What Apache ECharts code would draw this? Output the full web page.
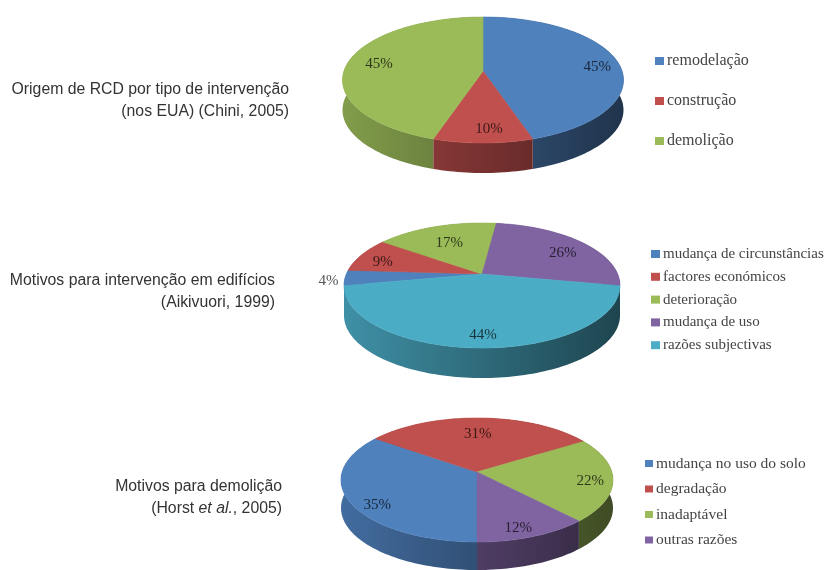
<!DOCTYPE html>
<html>
<head>
<meta charset="utf-8">
<style>html,body{margin:0;padding:0;background:#fff}#chart{width:826px;height:570px}</style>
<script src="https://cdn.jsdelivr.net/npm/echarts@6/dist/echarts.min.js"></script>
</head>
<body>
<div id="chart"></div>
<script>
// Shares, in percent, clockwise from each pie's first angle
const categoriasOrigem = ['remodelação', 'construção', 'demolição'];
const valoresOrigem = [45, 10, 45];

const categoriasIntervencao = ['mudança de circunstâncias', 'factores económicos', 'deterioração', 'mudança de uso', 'razões subjectivas'];
const valoresIntervencao = [4, 9, 17, 26, 44];

const categoriasDemolicao = ['mudança no uso do solo', 'degradação', 'inadaptável', 'outras razões'];
const valoresDemolicao = [35, 31, 22, 12];

const BLUE = '#4F81BD', RED = '#C0504D', GREEN = '#9BBB59', PURPLE = '#8064A2', CYAN = '#4BACC6';
const SERIF = '"Liberation Serif", serif';
const SANS = '"Liberation Sans", Arial, sans-serif';

// Each pie is a tilted disc: a perspective projection of a unit circle plus a side wall
const pies = [
  { cats: categoriasOrigem, vals: valoresOrigem, colors: [BLUE, RED, GREEN],
    firstAngle: 0, left: 343, right: 624, top: 17, bottom: 143, apexY: 71, cx: 483, depth: 30,
    labelR: [0.84, 0.82, 0.77], labelNudge: [[1, 4], [6, 1], [0, 0]],
    legend: { left: 655, top: 53, gap: 40 - 16, size: 8, font: 16 } },
  { cats: categoriasIntervencao, vals: valoresIntervencao, colors: [BLUE, RED, GREEN, PURPLE, CYAN],
    firstAngle: 259.2, left: 344, right: 620, top: 223, bottom: 348, apexY: 274, cx: 482, depth: 30,
    labelR: [1.12, 0.8, 0.68, 0.8, 0.8], labelNudge: [[0, 3], [-2, 4], [0, 3], [0, 5], [1, 4]],
    legend: { left: 651, top: 246.5, gap: 22.8 - 15, size: 8, font: 15 } },
  { cats: categoriasDemolicao, vals: valoresDemolicao, colors: [BLUE, RED, GREEN, PURPLE],
    firstAngle: 180, left: 341, right: 613, top: 418, bottom: 542, apexY: 472, cx: 477, depth: 28,
    labelR: [0.8, 0.7, 0.82, 0.82], labelNudge: [[1, 10], [-2, 1], [2, 3], [-4, 5]],
    legend: { left: 645, top: 455.5, gap: 25 - 15.5, size: 7, font: 15.5 } }
];

const titleLines = [
  { text: 'Origem de RCD por tipo de intervenção\n(nos EUA) (Chini, 2005)', x: 289, y: 79 },
  { text: 'Motivos para intervenção em edifícios\n(Aikivuori, 1999)', x: 275, y: 270 },
  { text: 'Motivos para demolição\n(Horst {i|et al.}, 2005)', x: 282, y: 476 }
];

function shade(hex, k) {
  const n = parseInt(hex.slice(1), 16);
  const c = [(n >> 16) & 255, (n >> 8) & 255, n & 255].map(v => Math.round(v * k));
  return 'rgb(' + c.join(',') + ')';
}

// Returns a function mapping (angle in degrees clockwise from 12 o'clock, radius) to the page
function projector(p) {
  const up = p.apexY - p.top, down = p.bottom - p.apexY;
  const ratio = down / up;
  const q = (ratio - 1) / (ratio + 1);
  const b = up * (1 + q);
  const a = ((p.right - p.left) / 2) * Math.sqrt(1 - q * q);
  return function (deg, r) {
    const t = deg * Math.PI / 180;
    const u = r * Math.sin(t), v = -r * Math.cos(t);
    const s = 1 / (1 - q * v);
    return [p.cx + a * u * s, p.apexY + b * v * s];
  };
}

function arc(project, from, to) {
  const pts = [];
  const steps = Math.max(2, Math.ceil((to - from) / 1.5));
  for (let i = 0; i <= steps; i++) pts.push(project(from + (to - from) * i / steps, 1));
  return pts;
}

const series = [];
const legends = [];

pies.forEach(function (p) {
  const project = projector(p);
  const total = p.vals.reduce((s, v) => s + v, 0);
  let start = p.firstAngle;
  p.vals.forEach(function (value, i) {
    const sweep = value / total * 360;
    const from = start, to = start + sweep;
    start = to;
    const color = p.colors[i];
    const edge = arc(project, from, to);

    // Side wall, shaded from left to right across the whole disc
    series.push({
      type: 'custom', coordinateSystem: 'none', silent: true, z: 2, animation: false,
      data: [[value]],
      renderItem: function () {
        const lower = edge.map(pt => [pt[0], pt[1] + p.depth]).reverse();
        return {
          type: 'polygon',
          shape: { points: edge.concat(lower) },
          style: {
            fill: {
              type: 'linear', global: true, x: p.left, y: 0, x2: p.right, y2: 0,
              colorStops: [
                { offset: 0, color: shade(color, 0.84) },
                { offset: 1, color: shade(color, 0.4) }
              ]
            }
          }
        };
      }
    });

    // Top face and its percentage label
    series.push({
      type: 'custom', coordinateSystem: 'none', silent: true, z: 3, animation: false,
      name: p.cats[i],
      itemStyle: { color: color },
      data: [[value]],
      renderItem: function (params, api) {
        const mid = (from + to) / 2;
        const r = p.labelR[i];
        const pos = project(mid, r);
        return {
          type: 'group',
          children: [
            {
              type: 'polygon',
              shape: { points: [project(0, 0)].concat(edge) },
              style: { fill: color, stroke: color, lineWidth: 0.6 }
            },
            {
              type: 'text', z2: 10,
              style: {
                x: pos[0] + p.labelNudge[i][0], y: pos[1] + p.labelNudge[i][1],
                text: api.value(0) + '%',
                align: 'center', verticalAlign: 'middle',
                font: '15px ' + SERIF,
                fill: r > 1 ? '#555' : shade(color, 0.3)
              }
            }
          ]
        };
      }
    });
  });

  legends.push({
    orient: 'vertical', left: p.legend.left, top: p.legend.top, padding: 0,
    itemWidth: p.legend.size + 1, itemHeight: p.legend.size, itemGap: p.legend.gap,
    icon: 'rect', selectedMode: false, data: p.cats,
    textStyle: { fontFamily: SERIF, fontSize: p.legend.font, color: '#444', lineHeight: p.legend.font, padding: [0, 0, 0, -2] }
  });
});

const titles = titleLines.map(t => ({
  text: t.text, left: t.x, top: t.y, textAlign: 'right', padding: 0,
  textStyle: {
    fontFamily: SANS, fontSize: 15.8, fontWeight: 'normal', color: '#333', lineHeight: 22,
    rich: { i: { fontFamily: SANS, fontSize: 15.8, fontStyle: 'italic', color: '#333', lineHeight: 22 } }
  }
}));

const chart = echarts.init(document.getElementById('chart'));
chart.setOption({
  backgroundColor: '#fff',
  animation: false,
  title: titles,
  legend: legends,
  series: series
});
</script>
</body>
</html>
